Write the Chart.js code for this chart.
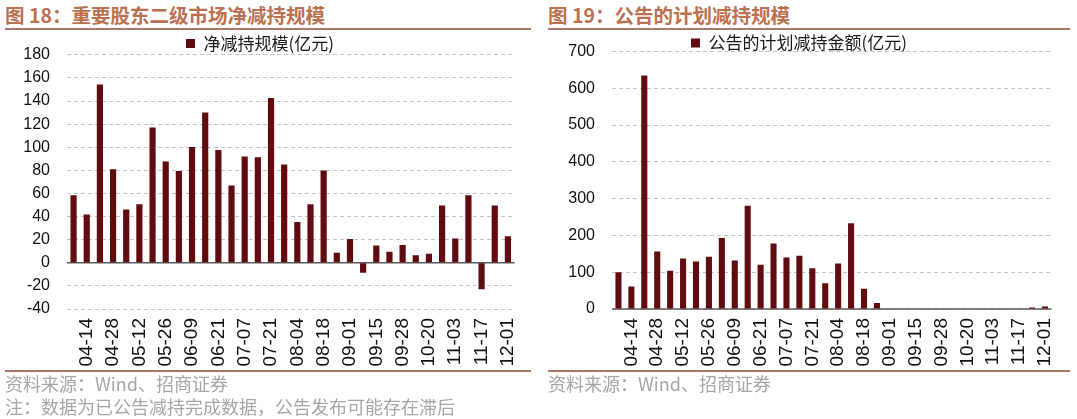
<!DOCTYPE html>
<html>
<head>
<meta charset="utf-8">
<script src="https://cdn.jsdelivr.net/npm/chart.js@4.4.0/dist/chart.umd.min.js"></script>
<style>
  body { margin: 0; background: #fff; }
  #page { position: relative; width: 1077px; height: 419px; overflow: hidden; font-family: "Noto Sans CJK SC", sans-serif; }
  .title { position: absolute; top: 4px; font-size: 19.5px; font-weight: bold; color: #bb7050; line-height: 22px; white-space: nowrap; }
  .rule { position: absolute; height: 2px; background: #a8786a; }
  .note { position: absolute; font-size: 18px; color: #a6a6a6; line-height: 22px; white-space: nowrap; }
  .box { position: absolute; top: 32px; height: 340px; }
</style>
</head>
<body>
<div id="page">
  <div class="title" style="left:5px;">图 18：重要股东二级市场净减持规模</div>
  <div class="title" style="left:548px;">图 19：公告的计划减持规模</div>
  <div class="rule" style="left:5px; width:526px; top:28px;"></div>
  <div class="rule" style="left:548px; width:522px; top:28px;"></div>

  <div class="box" style="left:0; width:540px;"><canvas id="chart-net"></canvas></div>
  <div class="box" style="left:540px; width:537px;"><canvas id="chart-plan"></canvas></div>

  <div class="rule" style="left:5px; width:526px; top:370px;"></div>
  <div class="rule" style="left:548px; width:522px; top:370px;"></div>
  <div class="note" style="left:5px; top:372px;">资料来源：Wind、招商证券</div>
  <div class="note" style="left:5px; top:395px;">注：数据为已公告减持完成数据，公告发布可能存在滞后</div>
  <div class="note" style="left:548px; top:372px;">资料来源：Wind、招商证券</div>
</div>

<script>
// 周度日期（仅奇数位显示标签）
const weeks = ["04-07", "04-14", "04-21", "04-28", "05-05", "05-12", "05-19", "05-26",
    "06-02", "06-09", "06-16", "06-21", "06-30", "07-07", "07-14", "07-21", "07-28",
    "08-04", "08-11", "08-18", "08-25", "09-01", "09-08", "09-15", "09-22", "09-28",
    "10-13", "10-20", "10-27", "11-03", "11-10", "11-17", "11-24", "12-01"];

// 净减持规模(亿元)
const netReduction = [58.5, 41.8, 154.2, 81, 46.1, 50.7, 117, 87.6, 79.5, 100.3, 130, 97.7,
    66.9, 91.9, 91.4, 142.6, 85, 35.4, 50.7, 79.8, 8.6, 20.5, -8.6, 15, 9.5, 15.3, 6.6, 7.8,
    49.6, 21, 58.5, -23, 49.6, 23];

// 公告的计划减持金额(亿元)
const plannedReduction = [100, 61, 635, 156, 104, 137, 129, 142, 193, 132, 281, 120, 178,
    140, 145, 111, 70, 124, 233, 55, 16, 0, 0, 0, 0, 0, 0, 0, 0, 0, 0, 0, 4, 7];

const netTicks = { min: -40, max: 180, step: 20 };
const planTicks = { min: 0, max: 700, step: 100 };

const BAR_COLOR = "#5f0b0f";

Chart.defaults.font.family = '"Liberation Sans", Arial, sans-serif';
Chart.defaults.color = "#111";

/** 零轴实线 */
const zeroLine = {
    id: "zeroLine",
    beforeDatasetsDraw(chart) {
        const { ctx, chartArea, scales } = chart;
        const y = scales.y.getPixelForValue(0);
        ctx.save();
        ctx.strokeStyle = "#5a5a5a";
        ctx.lineWidth = 1.5;
        ctx.beginPath();
        ctx.moveTo(chartArea.left, y);
        ctx.lineTo(chartArea.right, y);
        ctx.stroke();
        ctx.restore();
    }
};

function buildBarChart(ctx, opts) {
    return new Chart(ctx, {
        type: "bar",
        data: {
            labels: weeks,
            datasets: [{
                label: opts.label,
                data: opts.values,
                backgroundColor: BAR_COLOR,
                borderWidth: 0,
                barPercentage: 0.47,
                categoryPercentage: 1
            }]
        },
        options: {
            responsive: true,
            maintainAspectRatio: false,
            animation: false,
            layout: { padding: { left: 0, right: opts.padRight, top: 0, bottom: 0 } },
            plugins: {
                legend: {
                    display: true,
                    maxHeight: opts.legendHeight,
                    labels: {
                        boxWidth: 9,
                        boxHeight: 9,
                        padding: opts.legendPad,
                        color: "#1a1a1a",
                        font: { family: '"Noto Sans CJK SC", sans-serif', size: 17 }
                    }
                },
                tooltip: { enabled: false }
            },
            scales: {
                x: {
                    grid: { display: false, drawTicks: false },
                    border: { display: false },
                    ticks: {
                        autoSkip: false,
                        maxRotation: 90,
                        minRotation: 90,
                        padding: 9,
                        font: { size: 19 },
                        callback: (v, i) => (i % 2 === 1 ? weeks[i] : "")
                    },
                    afterFit: (scale) => { scale.height = 63; }
                },
                y: {
                    min: opts.ticks.min,
                    max: opts.ticks.max,
                    // 透明刻度线用来拉开标签与绘图区的距离
                    grid: { color: "#c4c4c4", lineWidth: 1, drawTicks: true, tickLength: 14, tickColor: "rgba(0,0,0,0)" },
                    border: { display: false, dash: [4, 3] },
                    ticks: { autoSkip: false, stepSize: opts.ticks.step, padding: 3, font: { size: 16 } },
                    afterFit: (scale) => { scale.width = opts.axisWidth; }
                }
            }
        },
        plugins: [zeroLine]
    });
}

buildBarChart(document.getElementById("chart-net").getContext("2d"), {
    label: "净减持规模(亿元)",
    values: netReduction,
    ticks: netTicks,
    axisWidth: 67,
    padRight: 20,
    legendHeight: 22.8,
    legendPad: 3
});

buildBarChart(document.getElementById("chart-plan").getContext("2d"), {
    label: "公告的计划减持金额(亿元)",
    values: plannedReduction,
    ticks: planTicks,
    axisWidth: 72,
    padRight: 19,
    legendHeight: 19.5,
    legendPad: 2.5
});
</script>
</body>
</html>
